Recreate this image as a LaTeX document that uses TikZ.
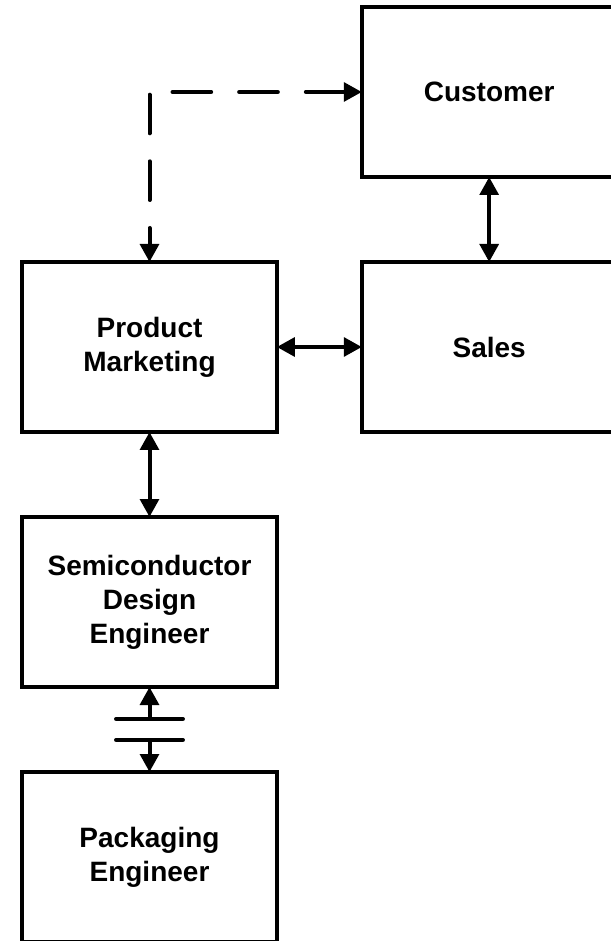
\documentclass[tikz,border=0pt]{standalone}
\usepackage{fontspec}
\setmainfont{Liberation Sans}
\usetikzlibrary{arrows.meta,positioning,calc}
\tikzset{
    bloco/.style={
        rectangle,
        draw,
        line width=3.2pt,
        outer sep=0pt,
        align=center,
        minimum width=191pt,
        minimum height=127.5pt
    },
    fluxo/.style={{Triangle[length=13.5pt, width=14pt]}-{Triangle[length=13.5pt, width=14pt]}, line width=3pt},
    fluxoSimples/.style={-{Triangle[length=13.5pt, width=14pt]}, line width=3pt},
    fluxoTracejado/.style={fluxoSimples, line cap=round, dash pattern=on 29pt off 21pt},
    barra/.style={line width=3.2pt, line cap=round}
}

\begin{document}
\begin{tikzpicture}[
        node distance=63.75pt and 63.75pt,
        every node/.style={font=\fontsize{21}{25.5}\selectfont\bfseries}
    ]
        \useasboundingbox (-112.125pt,-445.5pt) rectangle (345.375pt,260.25pt);

        \node[bloco] (marketing) {Product\\Marketing};
        \node[bloco, right=of marketing] (vendas) {Sales};
        \node[bloco, above=of vendas] (cliente) {Customer};
        \node[bloco, below=of marketing] (projeto) {Semiconductor\\Design\\Engineer};
        \node[bloco, below=of projeto] (encapsulamento) {Packaging\\Engineer};

        % caminho tracejado entre marketing e cliente
        \coordinate (canto) at (marketing.north |- cliente.west);
        \draw[fluxoTracejado, dash phase=48pt] (canto) -- (marketing.north);
        \draw[fluxoTracejado, dash phase=32.75pt] (canto) -- (cliente.west);

        \draw[fluxo] (cliente) -- (vendas);
        \draw[fluxo] (marketing) -- (vendas);
        \draw[fluxo] (marketing) -- (projeto);

        % ligacao interrompida
        \coordinate (meio) at ($(projeto.south)!0.5!(encapsulamento.north)$);
        \coordinate (corteA) at ([yshift=7.875pt]meio);
        \coordinate (corteB) at ([yshift=-7.875pt]meio);
        \draw[barra] ([xshift=-25pt]corteA) -- ([xshift=25pt]corteA);
        \draw[barra] ([xshift=-25pt]corteB) -- ([xshift=25pt]corteB);
        \draw[fluxoSimples] (corteA) -- (projeto.south);
        \draw[fluxoSimples] (corteB) -- (encapsulamento.north);
    \end{tikzpicture}
\end{document}
